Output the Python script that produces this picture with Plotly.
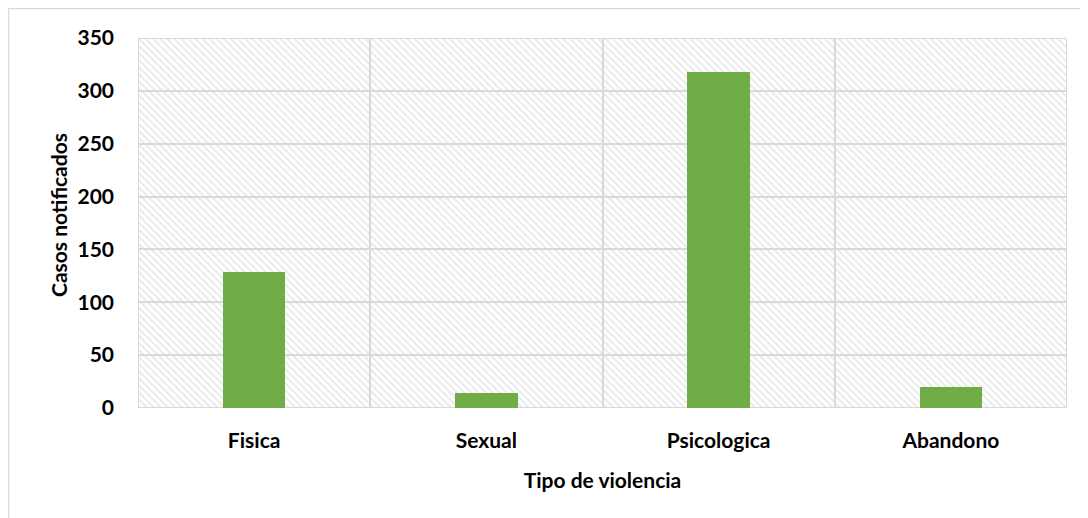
import plotly.graph_objects as go

categories = ["Fisica", "Sexual", "Psicologica", "Abandono"]
casos = [129, 14, 318, 20]
y_ticks = [0, 50, 100, 150, 200, 250, 300, 350]
y_max = y_ticks[-1]

# page body has an 8px margin, so the figure is drawn 8px in from the window edge
W, H = 1080, 510
L, R, T, B = 130, 21, 30, 110
pw, ph = W - L - R, H - T - B

FONT = "Lato"
GRID = "#d9d9d9"
fig = go.Figure()

# hatched plot-area background, built as stacked cells whose outlines act as the grid
for lo, hi in zip(y_ticks[:-1], y_ticks[1:]):
    fig.add_trace(go.Bar(
        x=categories, y=[hi - lo] * len(categories), width=1.0,
        marker=dict(color="white", line=dict(width=2, color=GRID),
                    pattern=dict(shape="\\", fgcolor="#d3d3d3", bgcolor="white",
                                 size=5, solidity=0.4)),
        hoverinfo="skip", showlegend=False, xaxis="x", yaxis="y"))

# the data bars, on overlaying axes so they sit on top of the background
fig.add_trace(go.Bar(
    x=categories, y=casos, width=0.27,
    marker=dict(color="#70AD47", line=dict(width=0)),
    showlegend=False, xaxis="x2", yaxis="y2"))

def px_x(p):
    return (p - L) / pw

def px_y(p):
    return (H - B - p) / ph

bold = dict(family=FONT, size=21, weight="bold", color="black")

fig.update_layout(
    width=W, height=H,
    margin=dict(l=L, r=R, t=T, b=B),
    paper_bgcolor="white", plot_bgcolor="white",
    barmode="stack", bargap=0,
    font=dict(family=FONT, color="black", size=21),
    xaxis=dict(
        showgrid=False, showline=False, ticks="", ticklabelstandoff=18,
        tickfont=bold,
        title=dict(text="Tipo de violencia", standoff=22, font=bold),
    ),
    yaxis=dict(
        range=[0, y_max], tickvals=y_ticks,
        showgrid=False, showline=False, zeroline=False,
        ticks="", ticklabelstandoff=23,
        tickfont=bold,
    ),
    xaxis2=dict(overlaying="x", matches="x", visible=False),
    yaxis2=dict(overlaying="y", range=[0, y_max], visible=False),
    annotations=[dict(text="Casos notificados", textangle=-90, showarrow=False,
                      xref="paper", yref="paper", x=px_x(50), y=px_y(207),
                      xanchor="center", yanchor="middle", font=bold)],
    shapes=[dict(type="rect", xref="paper", yref="paper",
                 x0=px_x(0.5), x1=px_x(1100), y0=px_y(530), y1=px_y(0.5),
                 line=dict(color=GRID, width=1.5), layer="below")],
)

fig.write_html("out.html")
